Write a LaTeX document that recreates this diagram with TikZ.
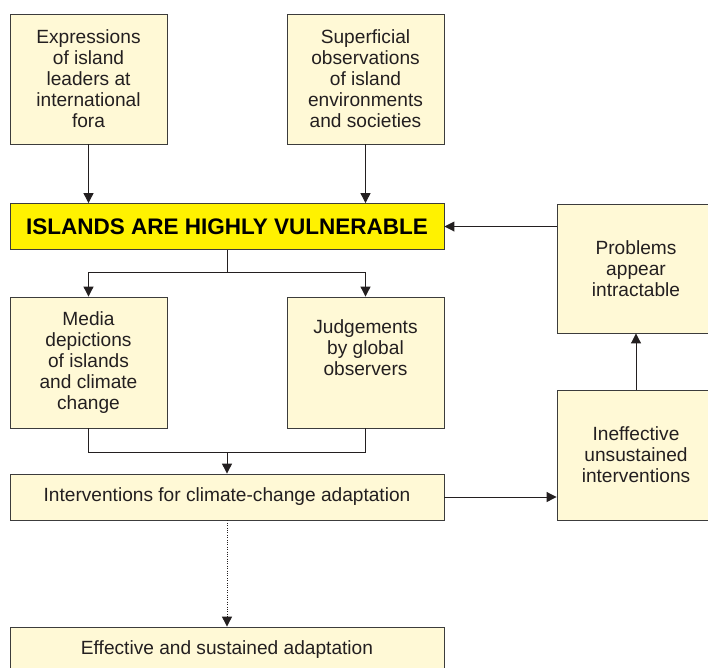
\documentclass[tikz,border=0pt]{standalone}
\usepackage{fontspec}
\setmainfont{Liberation Sans}
\usepackage{tikz}
\usetikzlibrary{arrows.meta}
\definecolor{boxfill}{RGB}{255,249,214}
\definecolor{boxline}{RGB}{60,60,60}
\definecolor{inktext}{RGB}{35,31,32}
\definecolor{alarm}{RGB}{255,242,0}

\begin{document}
\begin{tikzpicture}[x=0.025cm,y=-0.025cm]
    \tikzstyle{box}=[rectangle,draw=boxline,fill=boxfill,line width=0.6pt,text=inktext,align=center,inner sep=0pt,
        font=\fontsize{13.6}{14.9}\selectfont]
    \tikzstyle{tall}=[box,minimum width=3.925cm,minimum height=3.25cm]
    \tikzstyle{wide}=[box,minimum width=10.85cm,minimum height=1.15cm]
    \tikzstyle{headline}=[wide,fill=alarm,font=\fontsize{16}{19}\selectfont\bfseries,text=black]
    \tikzstyle{link}=[line width=0.7pt,draw=inktext,-{Triangle[length=7pt,width=7pt]}]
    \tikzstyle{plain}=[line width=0.7pt,draw=inktext]
    \useasboundingbox (0,0) rectangle (708,667);
	\node (lead)   at (88.5,79)   [tall] {Expressions\\of island\\leaders at\\international\\fora};
	\node (obs)    at (365.5,79)  [tall] {Superficial\\observations\\of island\\environments\\and societies};
	\node (vuln)   at (227,226.5) [headline] {ISLANDS ARE HIGHLY VULNERABLE};
	\node (prob)   at (636,268.5) [tall,minimum width=3.95cm,minimum height=3.225cm] {Problems\\appear\\intractable};
	\node (media)  at (88.5,362.5)  [tall,minimum height=3.275cm] {Media\\depictions\\of islands\\and climate\\change};
	\node (judge)  at (365.5,362.5) [tall,minimum height=3.275cm] {Judgements\\by global\\observers\\[6pt]};
	\node (interv) at (227,497)   [wide] {Interventions for climate-change adaptation};
	\node (ineff)  at (636,455)   [tall,minimum width=3.95cm] {Ineffective\\unsustained\\interventions};
	\node (effect) at (227,650)   [wide] {Effective and sustained adaptation};
	\coordinate (split) at (227,272);
	\coordinate (merge) at (227,452);
	\draw [link] (lead)  -- (lead |- vuln.north);
	\draw [link] (obs)   -- (obs |- vuln.north);
	\draw [link] (prob.west |- vuln.east) -- (vuln.east);
	\draw [plain] (vuln.south) -- (split);
	\draw [link] (split) -| (media.north);
	\draw [link] (split) -| (judge.north);
	\draw [plain] (media.south) |- (merge);
	\draw [plain] (judge.south) |- (merge);
	\draw [link] (merge) -- (interv.north);
	\draw [link] (interv.east) -- (interv.east -| ineff.west);
	\draw [link] (ineff.north) -- (prob.south);
	\draw [link,densely dotted] (interv.south) -- (effect.north);
  \end{tikzpicture}
\end{document}
